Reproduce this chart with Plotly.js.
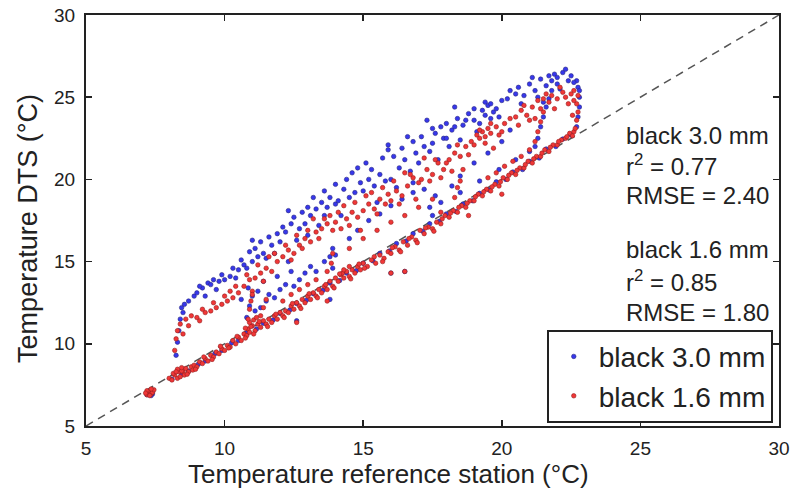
<!DOCTYPE html>
<html>
<head>
<meta charset="utf-8">
<script src="https://cdn.plot.ly/plotly-3.0.1.min.js"></script>
<style>html,body{margin:0;padding:0;background:#fff;}</style>
</head>
<body>
<div id="chart" style="width:794px;height:492px;"></div>
<script>
// ---- data (x = reference station °C, y = DTS °C) ----
const seriesNames = ["black 3.0 mm", "black 1.6 mm"];

// black 3.0 mm (blue)
const blueCluster = [[7.2,6.9],[7.3,7.1],[7.4,6.95],[7.25,7.05],[7.35,6.85]];
const blueBand = [[8.1,7.85],[8.45,8.15],[8.7,8.35],[9.05,8.75],[9.3,8.95],[9.65,9.4],[9.9,9.6],[10.25,10.05],[10.5,10.2],[10.8,10.65],[11.15,10.9],[11.4,11.25],[11.75,11.45],[12.0,11.85],[12.35,12.05],[12.6,12.45],[12.95,12.65],[13.2,13.05],[13.55,13.25],[13.8,13.7],[14.15,13.85],[14.4,14.3],[14.75,14.45],[15.0,14.9],[15.35,15.05],[15.6,15.5],[15.95,15.65],[16.2,16.1],[16.55,16.25],[16.8,16.7],[17.15,16.85],[17.4,17.3],[17.75,17.45],[18.0,17.9],[18.35,18.05],[18.6,18.5],[18.95,18.7],[19.2,19.15],[19.55,19.35],[19.8,19.85],[20.15,20.0],[20.4,20.45],[20.75,20.6],[21.0,21.1],[21.35,21.3],[21.6,21.85],[21.95,22.0],[22.2,22.45],[22.5,22.7]];
const blueLoop = [[18.5,19.2],[19.2,19.9],[19.9,20.6],[20.5,21.2],[21.0,21.7],[21.2,22.0],[21.3,22.5],[21.4,23.2],[21.5,23.8],[21.6,24.4],[22.7,23.2],[22.75,23.8],[22.8,24.4],[22.8,25.0],[22.75,25.6],[22.7,26.0]];
const blueUpper = [[8.25,9.3],[8.3,10.1],[8.35,10.8],[8.4,11.5],[8.45,12.2],[8.5,11.9],[8.55,12.4],[8.7,12.6],[8.9,12.9],
[9.2,13.4],[9.4,13.7],[9.5,13.6],[9.6,13.9],[9.8,13.8],[10.0,13.9],[10.2,14.1],[10.4,14.0],[9.3,12.9],[9.7,13.3],
[10.5,14.5],[10.7,14.8],[10.8,14.6],[11.0,15.0],[11.2,15.3],[11.4,15.5],[11.5,15.2],[11.7,16.0],[11.9,16.7],[12.0,16.2],[10.9,15.6],[11.6,16.5],
[12.2,16.8],[12.4,17.3],[12.6,16.3],[12.7,17.0],[12.9,17.3],[13.1,17.8],[13.3,18.2],[13.5,18.6],[13.7,18.3],[13.8,18.9],[13.4,17.2],[12.8,18.0],[13.0,16.6],[13.6,19.3],[14.0,18.5],
[14.1,18.7],[14.3,19.4],[14.5,18.9],[14.7,19.2],[14.9,19.8],[15.0,19.3],[15.2,20.0],[15.4,19.6],[15.6,20.3],[15.8,19.9],[16.0,20.0],[15.1,21.0],[14.6,20.4],[15.5,18.6],[16.1,21.4],[14.2,17.8],
[16.3,20.7],[16.5,21.2],[16.7,20.5],[16.9,21.6],[17.0,21.0],[17.2,22.0],[17.4,21.7],[17.5,22.2],[17.6,22.8],[17.8,23.2],[17.9,22.5],[18.0,23.4],[17.3,23.6],[16.6,22.6],[16.2,19.5],[17.7,21.2],[18.1,22.0],[16.8,19.8],[15.9,22.1],
[18.2,23.0],[18.4,23.7],[18.6,23.3],[18.8,24.0],[19.0,23.6],[19.2,23.4],[19.3,24.2],[19.4,23.9],[19.5,24.5],[19.6,24.6],[19.7,24.1],[19.8,24.3],[19.9,23.8],[18.5,22.4],[19.1,22.9],[18.3,24.4],[20.0,24.8],
[20.5,25.2],[20.6,25.6],[20.8,25.1],[21.0,25.8],[21.2,25.4],[21.4,26.1],[21.6,25.7],[21.8,26.0],[21.9,26.4],[22.0,26.2],[22.2,26.5],[22.4,26.0],[22.5,26.3],[22.6,25.9],[22.8,25.4],[21.5,24.7],[21.7,24.9],[20.7,24.6],[22.1,25.5]];
const blueUpperExtra = [[9.0,13.1],[9.1,13.5],[9.9,14.2],[10.3,14.6],[10.6,15.1],[11.1,15.8],[11.3,16.2],[11.8,15.5],[12.1,17.1],[12.5,17.7],[13.0,18.3],[13.2,18.9],[13.6,17.8],[14.4,20.0],[14.8,20.7],[15.3,20.6],[15.7,21.3],[16.4,21.9],[16.8,22.3],[17.1,22.6],[17.5,23.1],[18.0,22.5],[18.3,23.2],[18.7,23.6],[19.0,24.3],[19.4,24.7],[19.6,23.7],[20.2,24.9],[20.3,25.4],[21.1,26.2],[21.3,25.0],[21.7,26.3],[22.3,26.7],[22.0,25.8],[21.8,25.4],[12.3,18.1],[11.0,16.3],[15.9,21.8],[14.0,19.7]];
const blueMiddle = [[10.8,11.6],[10.9,12.3],[11.0,12.9],[10.85,13.4],[11.1,12.0],[11.3,12.2],[11.5,12.6],[11.6,13.0],[11.2,13.2],[11.8,12.8],[12.0,13.3],[12.2,13.6],[12.5,13.5],[12.7,13.9],[12.9,14.3],[13.1,14.7],[13.3,14.4],[13.6,15.0],[13.8,15.3],[13.9,15.8],[13.9,14.6],[14.0,15.4],[12.4,14.4],[12.3,15.0],[11.9,14.1],[11.4,13.8],[10.6,12.7],[14.5,16.4],[14.8,16.9],[15.2,17.5],[15.6,17.9],[16.0,18.4],[16.4,18.8],[16.8,19.2],[17.2,19.4],[17.4,18.3],[17.5,17.8],[17.6,19.0],[17.8,18.6],[18.2,19.6],[18.5,20.2],[19.0,21.0],[19.5,21.6],[20.0,22.3],[20.3,23.0],[16.0,14.3],[16.5,14.4],[12.6,11.4],[13.8,12.7]];

// black 1.6 mm (red)
const redCluster = [[7.2,6.9],[7.25,7.0],[7.3,7.1],[7.35,6.95],[7.4,7.05],[7.3,6.85],[7.2,7.15],[7.45,7.2],[7.15,7.0],[7.35,7.25]];
const redBand = [[8.0,7.9],[8.1,7.8],[8.2,8.1],[8.3,7.9],[8.35,8.3],[8.4,8.0],[8.5,8.3],[8.55,8.1],[8.6,8.5],[8.7,8.3],[8.8,8.6],[8.85,8.4],[8.9,8.7],[9.0,8.6],[9.1,8.9],[9.2,8.8],[9.3,9.1],[9.4,8.95],[9.5,9.3],[9.6,9.2],[9.7,9.5],[9.8,9.4],[9.9,9.7],[10.0,9.6],
[10.1,9.9],[10.2,9.8],[10.3,10.2],[10.4,10.0],[10.5,10.4],[10.6,10.2],[10.7,10.6],[10.8,10.5],[10.85,10.9],[10.9,10.7],[11.0,11.1],[11.1,10.8],[11.2,11.2],[11.3,11.0],[11.4,11.4],[11.5,11.2],[11.6,11.5],[11.7,11.3],[11.8,11.7],[11.9,11.5],[12.0,11.9],
[12.1,11.7],[12.2,12.0],[12.3,11.9],[12.4,12.3],[12.5,12.1],[12.6,12.5],[12.7,12.3],[12.8,12.7],[12.9,12.5],[13.0,12.9],[13.1,12.7],[13.2,13.1],[13.3,12.9],[13.4,13.3],[13.5,13.1],[13.6,13.5],[13.7,13.3],[13.8,13.8],[13.9,13.5],[14.0,14.0],
[14.1,13.8],[14.2,14.2],[14.3,14.0],[14.4,14.4],[14.5,14.1],[14.6,14.5],[14.7,14.3],[14.8,14.7],[14.9,14.5],[15.0,14.9],[15.15,14.7],[15.3,15.1],[15.45,14.9],[15.6,15.4],[15.75,15.2],[15.9,15.6],[16.0,15.5],
[16.15,15.9],[16.3,15.7],[16.45,16.2],[16.6,16.0],[16.75,16.5],[16.9,16.3],[17.05,16.9],[17.2,16.7],[17.35,17.1],[17.5,17.0],[17.65,17.4],[17.8,17.3],[17.95,17.8],
[18.1,17.7],[18.25,18.1],[18.4,18.0],[18.55,18.4],[18.7,18.3],[18.85,18.7],[19.0,18.7],[19.15,19.1],[19.3,19.0],[19.45,19.4],[19.6,19.3],[19.75,19.7],[19.9,19.6],[20.05,20.1],[20.2,20.0],[20.35,20.4],[20.5,20.3],[20.65,20.7],[20.8,20.7],[20.95,21.1],[21.1,21.0],[21.25,21.4],[21.4,21.4],[21.55,21.8],[21.7,21.7],[21.85,22.1],[22.0,22.1],[22.15,22.4],[22.3,22.5],[22.45,22.8],[22.6,22.9]];
const redBandExtra = [[8.15,8.2],[8.45,8.35],[8.65,8.15],[8.95,8.45],[9.25,9.2],[9.55,9.05],[9.85,9.85],[10.15,9.75],[10.45,10.45],[10.75,10.35],[10.95,11.05],[11.05,10.6],[11.25,11.35],[11.55,11.05],[11.85,11.8],[12.15,11.6],[12.45,12.45],[12.75,12.15],[13.05,13.05],[13.35,12.8],[13.65,13.6],[13.95,13.4],[14.25,14.3],[14.55,13.95],[14.85,14.85],[15.05,14.6],[15.4,15.3],[15.7,15.0],[16.05,15.85],[16.35,15.6],[16.65,16.4],[16.95,16.15],[17.25,17.05],[17.55,16.85],[17.85,17.6],[18.15,17.95],[18.45,18.3],[18.75,18.55],[19.05,18.95],[19.35,19.25],[19.65,19.55],[19.95,19.85],[20.25,20.25],[20.55,20.55],[20.85,20.9],[21.15,21.25],[21.45,21.6],[21.75,21.95],[22.05,22.3],[22.35,22.6],[22.55,22.65],
[10.9,11.3],[11.05,11.45],[11.15,11.6],[10.75,10.95],[14.3,14.5],[14.5,14.7],[14.15,14.25],[8.3,8.45],[8.45,8.55],[8.25,8.3]];
const redLoop = [[19.5,20.1],[19.8,20.4],[20.1,20.8],[20.4,21.1],[20.7,21.4],[21.0,21.8],[21.2,22.3],[21.3,22.9],[21.4,23.5],[21.5,24.1],[22.65,23.1],[22.7,23.6],[22.75,24.1],[22.7,24.6],[22.75,25.1],[22.6,25.4]];
const redUpper = [[8.2,9.6],[8.25,10.3],[8.3,10.8],[8.4,11.2],[8.5,10.6],[8.6,11.5],[8.8,11.7],[9.0,11.6],[9.1,11.4],[9.3,11.9],[9.5,12.0],[9.7,12.2],
[9.9,12.4],[10.1,12.6],[10.3,12.8],[10.5,13.1],[10.7,13.5],[10.9,13.9],[11.1,14.0],[11.3,14.3],[11.5,14.6],[11.7,14.4],[11.9,15.0],[10.2,13.2],[11.0,13.2],[11.6,15.3],
[12.1,15.3],[12.3,15.7],[12.5,15.5],[12.7,16.0],[12.9,16.4],[13.1,16.2],[13.3,16.8],[13.5,17.0],[13.7,17.3],[13.9,16.9],[12.6,16.6],[13.2,17.6],[13.8,17.8],[14.0,17.4],
[14.2,17.0],[14.4,17.6],[14.6,18.0],[14.8,17.7],[15.0,18.1],[15.2,18.5],[15.4,18.2],[15.6,18.8],[15.8,18.5],[16.0,18.7],[14.3,18.4],[15.1,19.0],[15.7,19.5],[14.9,16.9],
[16.2,19.3],[16.4,19.0],[16.6,19.6],[16.8,20.1],[17.0,19.8],[17.1,20.0],[17.3,20.6],[17.5,20.3],[17.7,21.0],[17.9,20.6],[17.8,20.1],[16.5,20.4],[17.2,21.3],[16.9,18.8],
[18.1,21.2],[18.3,21.6],[18.5,21.4],[18.7,22.0],[18.9,22.3],[19.0,22.1],[19.1,22.7],[19.2,22.5],[19.3,22.9],[19.4,22.6],[19.5,23.1],[19.6,22.8],[19.8,23.2],[19.9,22.7],[20.1,23.4],[18.6,20.6],[19.7,21.9],
[20.5,23.8],[20.7,24.2],[20.9,23.9],[21.1,24.4],[21.3,24.8],[21.5,24.9],[21.7,24.7],[21.8,25.1],[22.0,24.9],[22.2,25.3],[22.3,25.0],[22.5,25.2],[22.6,24.8],[21.9,24.3],[21.2,23.7],[20.6,23.3]];
const redUpperExtra = [[8.7,11.1],[9.2,12.1],[9.6,12.5],[10.0,12.9],[10.4,13.5],[10.8,14.2],[11.2,14.8],[11.4,13.8],[11.8,15.5],[12.2,16.0],[12.4,15.1],[12.8,15.8],[13.0,16.9],[13.4,16.4],[13.6,17.6],[14.1,18.0],[14.5,17.2],[14.7,18.6],[15.3,19.2],[15.5,17.9],[15.9,19.1],[16.1,19.9],[16.3,18.5],[16.7,20.3],[17.4,19.9],[17.6,21.2],[18.0,21.0],[18.2,20.5],[18.4,22.1],[18.8,21.5],[19.2,23.0],[19.4,22.2],[19.6,23.4],[20.0,22.9],[20.3,23.7],[20.8,24.5],[21.0,23.6],[21.4,24.3],[21.6,25.2],[22.1,25.6],[22.4,24.6],[22.55,23.9]];
const redMiddle = [[10.85,11.5],[10.9,12.1],[10.95,12.6],[11.0,13.0],[11.3,11.7],[11.4,12.2],[11.5,12.7],[12.1,12.6],[12.4,13.0],[12.7,13.3],[13.0,13.6],[13.3,13.9],[13.7,14.4],[13.85,14.9],[13.9,15.5],[14.5,15.8],[15.0,16.4],[15.5,16.9],[16.0,17.4],[16.5,17.8],[17.0,18.3],[17.5,18.8],[17.8,18.0],[18.3,18.9],[18.4,19.5],[18.5,19.9],[12.6,11.3],[13.7,12.6],[16.0,14.3],[16.5,14.4],[20.0,19.1],[18.8,17.8]];

// 1:1 reference line
const oneToOne = [5, 30];

// statistics text
const stats = [
  {label: "black 3.0 mm", r2: "0.77", rmse: "2.40"},
  {label: "black 1.6 mm", r2: "0.85", rmse: "1.80"}
];
// -----------------------------------------------------------------------------

const blueAll = [].concat(blueCluster, blueBand, blueLoop, blueUpper, blueUpperExtra, blueMiddle);
const redAll = [].concat(redCluster, redBand, redBandExtra, redLoop, redUpper, redUpperExtra, redMiddle);

const FONT = "Liberation Sans, Arial, Helvetica, sans-serif";

const traces = [
  {x: oneToOne, y: oneToOne, mode: "lines", showlegend: false, hoverinfo: "skip",
   line: {color: "#555", width: 1.5, dash: "8px,6px"}},
  {x: blueAll.map(p => p[0]), y: blueAll.map(p => p[1]), mode: "markers", type: "scatter",
   name: seriesNames[0],
   marker: {color: "rgb(55,55,235)", size: 4.5, line: {color: "rgb(40,40,130)", width: 0.6}}},
  {x: redAll.map(p => p[0]), y: redAll.map(p => p[1]), mode: "markers", type: "scatter",
   name: seriesNames[1],
   marker: {color: "rgb(240,55,55)", size: 4.5, line: {color: "rgb(150,30,30)", width: 0.6}}}
];

const statY = [[22.70, 20.88, 19.05], [15.71, 13.82, 11.93]];
const annotations = [];
stats.forEach((s, i) => {
  const lines = [s.label, "r<sup>2</sup> = " + s.r2, "RMSE = " + s.rmse];
  lines.forEach((t, j) => {
    annotations.push({x: 24.42, y: statY[i][j], xref: "x", yref: "y", text: t,
      showarrow: false, xanchor: "left", yanchor: "middle",
      font: {family: FONT, size: 24, color: "#222"}});
  });
});
annotations.push({x: 0.437, y: -0.117, xref: "paper", yref: "paper",
  text: "Temperature reference station (°C)", showarrow: false,
  xanchor: "center", yanchor: "middle", font: {family: FONT, size: 26, color: "#222"}});
annotations.push({x: -0.0837, y: 0.482, xref: "paper", yref: "paper",
  text: "Temperature DTS (°C)", showarrow: false, textangle: -90,
  xanchor: "center", yanchor: "middle", font: {family: FONT, size: 27, color: "#222"}});

const axisCommon = {
  range: [5, 30], tickvals: [5, 10, 15, 20, 25, 30], ticks: "inside", ticklen: 6,
  tickwidth: 1.5, tickcolor: "#222", showline: true, linecolor: "#222", linewidth: 2,
  mirror: "ticks", showgrid: false, zeroline: false,
  tickfont: {family: FONT, size: 19, color: "#222"}
};

const layout = {
  width: 794, height: 492,
  margin: {l: 86, r: 15, t: 15, b: 66},
  paper_bgcolor: "#fff", plot_bgcolor: "#fff",
  xaxis: Object.assign({}, axisCommon, {ticklabelstandoff: 4}),
  yaxis: Object.assign({}, axisCommon, {ticklabelstandoff: 5}),
  showlegend: true,
  legend: {x: 0.991, y: 0.008, xanchor: "right", yanchor: "bottom",
    bgcolor: "#fff", bordercolor: "#222", borderwidth: 2,
    font: {family: FONT, size: 28, color: "#222"}, itemwidth: 40, tracegroupgap: 0},
  annotations: annotations
};

Plotly.newPlot("chart", traces, layout, {staticPlot: true, displayModeBar: false});
</script>
</body>
</html>
